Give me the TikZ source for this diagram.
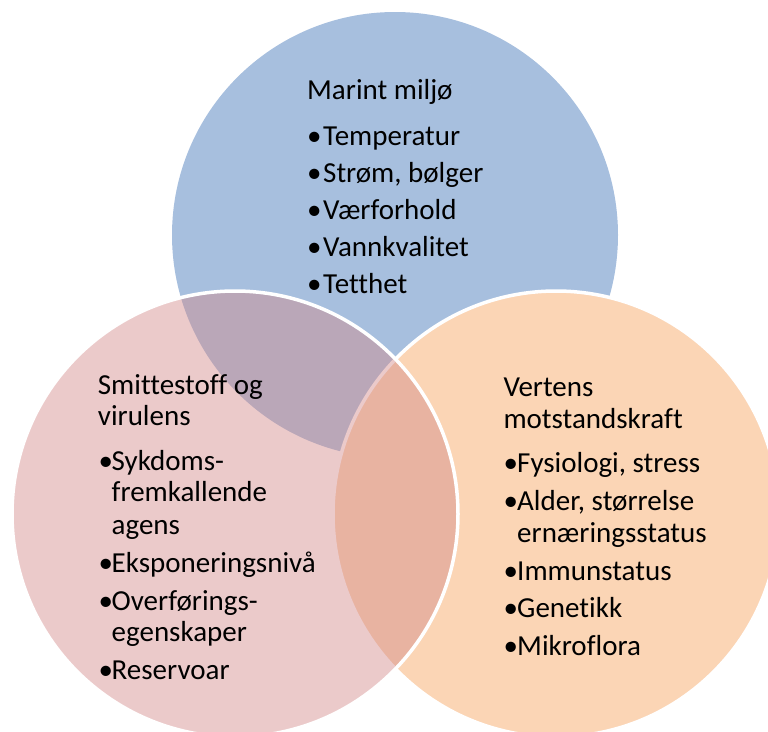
\documentclass[tikz,border=0pt]{standalone}
\usepackage{fontspec}
\setmainfont{Carlito}[Ligatures=NoCommon]
\definecolor{seablue}{RGB}{167,191,222}
\definecolor{hostpeach}{RGB}{251,213,181}
\definecolor{agentrose}{RGB}{211,138,138}
\begin{document}
\begin{tikzpicture}[x=1pt,y=-1pt,
  txt/.style={anchor=base west, inner sep=0pt, font=\fontsize{29}{35}\selectfont},
  ring/.style={draw=white, line width=3.5pt}]
\useasboundingbox (0,0) rectangle (768,731);
% three overlapping circles
\fill[seablue] (395,235) circle[radius=223pt];
\filldraw[ring, fill=hostpeach] (556,514) circle[radius=223pt];
\filldraw[ring, fill=agentrose, fill opacity=0.45] (235,514) circle[radius=223pt];

% Marint miljø
\node[txt] (mt) at (307,99.3) {Marint miljø};
\node[txt] (mb1) at (307,145) {•};  \node[txt] (m1) at (323,145) {Temperatur};
\node[txt] (mb2) at (307,182.3) {•}; \node[txt] (m2) at (323,182.3) {Strøm, bølger};
\node[txt] (mb3) at (307,219.3) {•}; \node[txt] (m3) at (323,219.3) {Værforhold};
\node[txt] (mb4) at (307,256) {•};  \node[txt] (m4) at (323,256) {Vannkvalitet};
\node[txt] (mb5) at (307,293.3) {•}; \node[txt] (m5) at (323,293.3) {Tetthet};

% Smittestoff og virulens
\node[txt] (st1) at (97.7,394.3) {Smittestoff og};
\node[txt] (st2) at (97.7,425) {virulens};
\node[txt] (sb1) at (98.5,470) {•};   \node[txt] (s1a) at (111.5,470) {Sykdoms-};
\node[txt] (s1b) at (111.5,501.7) {fremkallende};
\node[txt] (s1c) at (111.5,534) {agens};
\node[txt] (sb2) at (98.5,572.7) {•}; \node[txt] (s2) at (111.5,572.7) {Eksponeringsnivå};
\node[txt] (sb3) at (98.5,610) {•};   \node[txt] (s3a) at (111.5,610) {Overførings-};
\node[txt] (s3b) at (111.5,641.7) {egenskaper};
\node[txt] (sb4) at (98.5,679.3) {•}; \node[txt] (s4) at (111.5,679.3) {Reservoar};

% Vertens motstandskraft
\node[txt] (vt1) at (503.3,396) {Vertens};
\node[txt] (vt2) at (503.3,428.3) {motstandskraft};
\node[txt] (vb1) at (503.5,472.7) {•}; \node[txt] (v1) at (517,472.7) {Fysiologi, stress};
\node[txt] (vb2) at (503.5,510) {•};   \node[txt] (v2a) at (517,510) {Alder, størrelse};
\node[txt] (v2b) at (517,542.7) {ernæringsstatus};
\node[txt] (vb3) at (503.5,580.7) {•}; \node[txt] (v3) at (517,580.7) {Immunstatus};
\node[txt] (vb4) at (503.5,617.7) {•}; \node[txt] (v4) at (517,617.7) {Genetikk};
\node[txt] (vb5) at (503.5,655) {•};   \node[txt] (v5) at (517,655) {Mikroflora};
\end{tikzpicture}
\end{document}
